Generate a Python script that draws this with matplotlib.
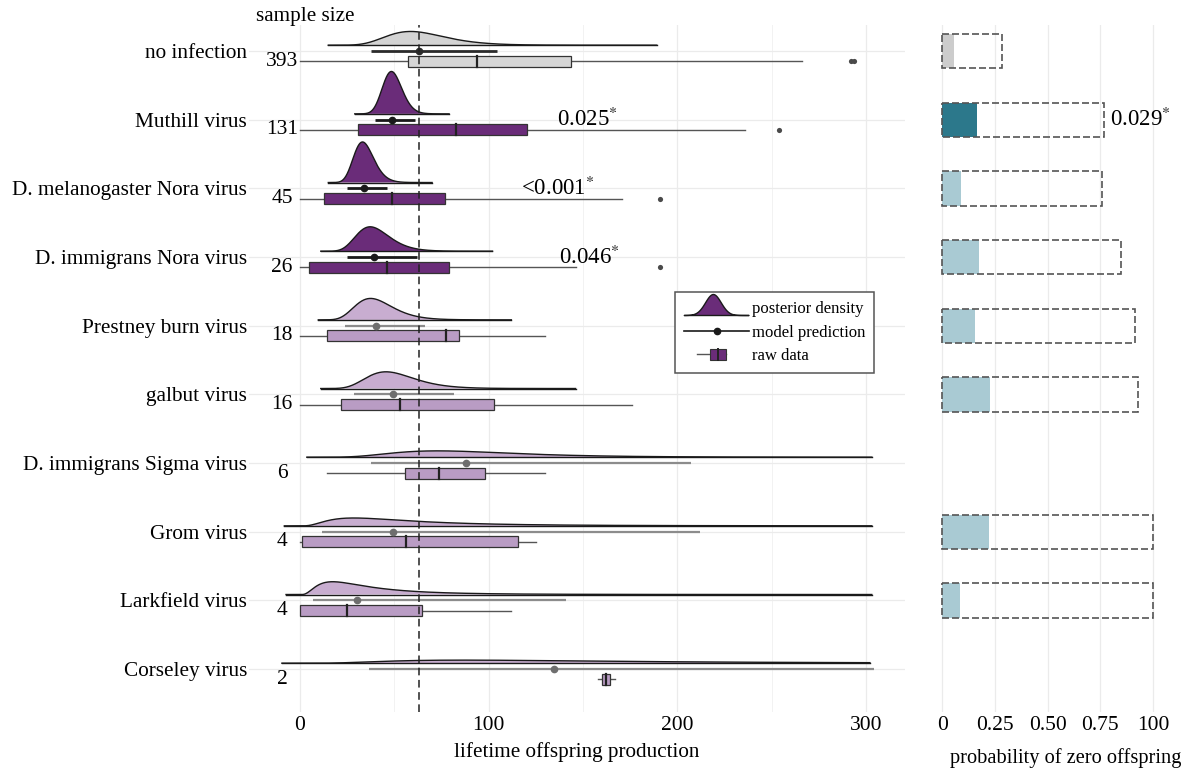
import numpy as np
import matplotlib.pyplot as plt
from matplotlib.patches import Rectangle, Polygon, Patch
from matplotlib.lines import Line2D
from matplotlib.legend_handler import HandlerBase

plt.rcParams['font.family'] = ['Liberation Serif', 'DejaVu Serif']
plt.rcParams['mathtext.fontset'] = 'stix'

# ---- data ----
groups = ['no infection', 'Muthill virus', 'D. melanogaster Nora virus',
          'D. immigrans Nora virus', 'Prestney burn virus', 'galbut virus',
          'D. immigrans Sigma virus', 'Grom virus', 'Larkfield virus', 'Corseley virus']
sample_size = [393, 131, 45, 26, 18, 16, 6, 4, 4, 2]
kind = ['ref', 'sig', 'sig', 'sig', 'ns', 'ns', 'ns', 'ns', 'ns', 'ns']

# model prediction (posterior median) and 95% interval
pred = [62.8, 49.0, 34.0, 39.3, 40.1, 49.2, 88.0, 49.5, 30.3, 134.6]
ci_lo = [37.5, 39.8, 24.8, 24.8, 23.9, 28.6, 37.7, 11.6, 7.0, 36.7]
ci_hi = [104.3, 61.0, 46.0, 61.9, 66.3, 81.7, 207.0, 212.0, 141.0, 304.0]
# range over which the posterior density is drawn
dens_lo = [15, 29, 15, 11, 9.7, 11, 3.6, -8.3, -7.4, -9.6]
dens_hi = [189, 79, 70, 102, 112, 146, 303, 303, 303, 302]

# raw data box plots
box_q1 = [57, 31, 12.7, 5, 14.5, 21.8, 55.4, 0.8, 0, 160]
box_med = [93.7, 82.8, 49, 46, 77.3, 53, 73.6, 56.2, 25, 162]
box_q3 = [143.6, 120.2, 77, 79.2, 84.5, 103, 98, 115.3, 64.6, 164.5]
whisk_lo = [0, 0, 0, 0, 0, 0, 14.2, 0, 0, 158]
whisk_hi = [266, 236, 170.6, 146, 130, 176, 129.8, 125.3, 111.7, 166.7]
outliers = [[292, 293.5], [254], [191], [191], [], [], [], [], [], []]

p_labels = {1: ('0.025', 136), 2: ('<0.001', 117), 3: ('0.046', 137)}

# probability of zero offspring
p_zero = [0.058, 0.164, 0.09, 0.175, 0.157, 0.228, np.nan, 0.223, 0.085, np.nan]
p_zero_hi = [0.283, 0.77, 0.757, 0.85, 0.915, 0.93, np.nan, 1.0, 1.0, np.nan]
zero_kind = ['ref', 'sig', 'ns', 'ns', 'ns', 'ns', 'ns', 'ns', 'ns', 'ns']

dens_fill = {'ref': '#d3d3d3', 'sig': '#6a2c79', 'ns': '#c8add0'}
box_fill = {'ref': '#d6d6d6', 'sig': '#6a2c79', 'ns': '#b99cc4'}
ci_color = {'ref': '#2b2b2b', 'sig': '#1a1a1a', 'ns': '#8c8c8c'}
bar_fill = {'ref': '#cccccc', 'sig': '#2c788b', 'ns': '#a9cad3'}

W, H = 1197, 771
fig = plt.figure(figsize=(W / 100, H / 100), dpi=100)


def px_rect(x0, x1, y0, y1):
    return [x0 / W, 1 - y1 / H, (x1 - x0) / W, (y1 - y0) / H]


X0_PX, X1_PX = 249, 905
ax = fig.add_axes(px_rect(X0_PX, X1_PX, 25, 712))
ax2 = fig.add_axes(px_rect(925, 1170, 25, 712))
ylim = (9.626, -0.379)
PX_PER_UNIT = 1.887

DENS_SCALE = 8.0
for i, g in enumerate(groups):
    k = kind[i]
    # posterior density (log-normal from the model interval)
    mu = np.log(pred[i])
    sig = (np.log(pred[i]) - np.log(ci_lo[i])) / 1.96
    xs = np.linspace(dens_lo[i], dens_hi[i], 600)
    xp = np.clip(xs, 1e-6, None)
    d = np.exp(-(np.log(xp) - mu) ** 2 / (2 * sig ** 2)) / (xp * sig * np.sqrt(2 * np.pi))
    d[xs <= 0] = 0
    base = i - 0.085
    top = base - d * DENS_SCALE
    ax.fill_between(xs, top, base, facecolor=dens_fill[k], edgecolor='none', zorder=2)
    ax.plot(xs, top, color='#1a1a1a', lw=1.0, zorder=2.5)
    ax.plot([xs[0], xs[-1]], [base, base], color='#1a1a1a', lw=1.0, zorder=2.5)

    # model prediction
    lw = 2.0 if k != 'ns' else 1.6
    ax.plot([ci_lo[i], ci_hi[i]], [i, i], color=ci_color[k], lw=lw, zorder=3,
            solid_capstyle='butt')
    ax.plot(pred[i], i, 'o', ms=4.5, color=ci_color[k] if k != 'ns' else '#6e6e6e', zorder=3.5)

    # raw data box plot
    yb, hb = i + 0.15, 0.16
    ax.plot([whisk_lo[i], box_q1[i]], [yb, yb], color='#555555', lw=1.0, zorder=3)
    ax.plot([box_q3[i], whisk_hi[i]], [yb, yb], color='#555555', lw=1.0, zorder=3)
    ax.add_patch(Rectangle((box_q1[i], yb - hb / 2), box_q3[i] - box_q1[i], hb,
                           facecolor=box_fill[k], edgecolor='#333333', lw=0.9, zorder=3))
    ax.plot([box_med[i], box_med[i]], [yb - hb / 2, yb + hb / 2], color='#222222',
            lw=1.6, zorder=3.2)
    if outliers[i]:
        ax.scatter(outliers[i], [yb] * len(outliers[i]), s=14, color='#4a4a4a',
                   zorder=3.5, linewidths=0)

    ax.text(-9.5, yb, str(sample_size[i]), ha='center', va='center', fontsize=15.5)

    if i in p_labels:
        lab, xl = p_labels[i]
        ax.text(xl, i, lab + r'$^{*}$', fontsize=16.5, va='center', ha='left', zorder=4)

ax.axvline(pred[0], color='#222222', ls=(0, (5, 3)), lw=1.1, zorder=5)

x_lo = -(300 - X0_PX) / PX_PER_UNIT
ax.set_xlim(x_lo, x_lo + (X1_PX - X0_PX) / PX_PER_UNIT)
ax.set_ylim(*ylim)
ax.set_yticks(range(len(groups)))
ax.set_yticklabels(groups, fontsize=15.3)
ax.set_xticks([0, 100, 200, 300])
ax.set_xticks([50, 150, 250], minor=True)
ax.tick_params(axis='both', which='both', length=0)
ax.tick_params(axis='x', labelsize=15.5, pad=3)
ax.tick_params(axis='y', pad=1.5)
ax.grid(True, which='major', color='#ebebeb', lw=0.9, zorder=0)
ax.grid(True, which='minor', axis='x', color='#f2f2f2', lw=0.7, zorder=0)
ax.set_axisbelow(True)
ax.set_xlabel('lifetime offspring production', fontsize=15.2, labelpad=5)
for s in ax.spines.values():
    s.set_visible(False)

# right panel: probability of zero offspring
for i in range(len(groups)):
    if np.isnan(p_zero[i]):
        continue
    ax2.add_patch(Rectangle((0, i - 0.25), p_zero[i], 0.5, facecolor=bar_fill[zero_kind[i]],
                            edgecolor='none', zorder=2))
    ax2.add_patch(Rectangle((0, i - 0.25), p_zero_hi[i], 0.5, fill=False, edgecolor='#555555',
                            ls=(0, (4.2, 1.8)), lw=1.2, zorder=3))
ax2.text(0.796, 1, '0.029' + r'$^{*}$', fontsize=16.5, va='center', ha='left', clip_on=False)
ax2.set_xlim(-0.081, 1.081)
ax2.set_ylim(*ylim)
ax2.set_yticks([])
ax2.set_xticks([0, 0.25, 0.5, 0.75, 1.0])
ax2.set_xticklabels(['0', '0.25', '0.50', '0.75', '100'])
ax2.tick_params(axis='x', length=0, labelsize=15.5, pad=3)
ax2.grid(True, axis='x', color='#ebebeb', lw=0.9, zorder=0)
ax2.set_axisbelow(True)
ax2.set_xlabel('probability of zero offspring', fontsize=14.7)
ax2.xaxis.set_label_coords(0.573, -0.052)
for s in ax2.spines.values():
    s.set_visible(False)

fig.text(256 / W, 1 - 17 / H, 'sample size', fontsize=15.2, ha='left', va='center')


# legend glyphs
class DensityGlyph(HandlerBase):
    def create_artists(self, legend, orig_handle, xd, yd, width, height, fontsize, trans):
        t = np.linspace(0, 1, 80)
        bump = np.exp(-((t - 0.45) / 0.17) ** 2)
        x = -xd + t * width
        y0 = -yd - 0.2 * height
        y = y0 + bump * height * 1.8
        verts = np.column_stack([np.r_[x, x[::-1]], np.r_[y, np.full_like(y, y0)]])
        p = Polygon(verts, closed=True, facecolor=dens_fill['sig'], edgecolor='#1a1a1a',
                    lw=1.0, transform=trans)
        return [p]


class BoxGlyph(HandlerBase):
    def create_artists(self, legend, orig_handle, xd, yd, width, height, fontsize, trans):
        yc = -yd + height / 2
        x0 = -xd
        wl = Line2D([x0 + 0.2 * width, x0 + 0.65 * width], [yc, yc], color='#555555',
                    lw=1.0, transform=trans)
        r = Rectangle((x0 + 0.4 * width, yc - 0.45 * height), 0.25 * width, 0.9 * height,
                      facecolor=box_fill['sig'], edgecolor='#333333', lw=0.8, transform=trans)
        m = Line2D([x0 + 0.52 * width] * 2, [yc - 0.45 * height, yc + 0.45 * height],
                   color='#222222', lw=1.4, transform=trans)
        return [wl, r, m]


h_dens = Patch(facecolor=dens_fill['sig'])
h_pred = Line2D([], [], color='#1a1a1a', lw=1.2, marker='o', ms=4.5)
h_box = Patch(facecolor=box_fill['sig'])
leg = fig.legend([h_dens, h_pred, h_box], ['posterior density', 'model prediction', 'raw data'],
                 handler_map={h_dens: DensityGlyph(), h_box: BoxGlyph()},
                 loc='upper left', bbox_to_anchor=(675 / W, 1 - 292 / H),
                 bbox_transform=fig.transFigure, borderaxespad=0, fontsize=12.0,
                 handlelength=3.9, labelspacing=0.45, fancybox=False, framealpha=1,
                 edgecolor='#555555', handletextpad=0.15, borderpad=0.55)
leg.get_frame().set_linewidth(1.1)

fig.savefig('out.png', dpi=100)
